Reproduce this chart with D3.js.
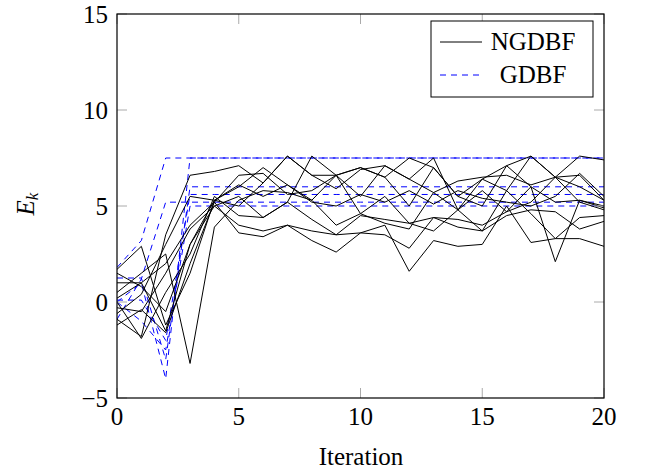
<!DOCTYPE html>
<html><head><meta charset="utf-8">
<script src="https://cdn.jsdelivr.net/npm/d3@7"></script>
<style>body{margin:0;background:#fff}svg{display:block}
text{font-family:"Liberation Serif","DejaVu Serif",serif;}</style>
</head><body>
<script>
const iterations = d3.range(0, 21);
const xTicks = [0, 5, 10, 15, 20];
const yTicks = [-5, 0, 5, 10, 15];

const ngdbf = [
  [-0.9, -1.8, 3.5, 6.6, 6.8, 7.1, 6.2, 7.6, 6.6, 6.6, 7.0, 6.5, 7.5, 7.0, 5.5, 6.4, 7.1, 7.6, 6.5, 7.6, 7.4],
  [1.7, 2.9, -1.2, 1.5, 5.3, 5.0, 6.2, 7.6, 6.6, 5.9, 6.9, 7.1, 6.4, 7.5, 4.8, 6.4, 5.8, 7.6, 6.5, 6.6, 5.3],
  [1.0, 1.0, -1.5, 3.0, 5.3, 6.0, 7.0, 6.1, 5.3, 6.6, 7.0, 6.5, 5.0, 7.0, 5.5, 5.0, 7.1, 6.0, 5.2, 5.3, 5.0],
  [-0.3, -0.5, 1.5, 3.8, 5.0, 5.5, 4.4, 5.2, 7.6, 6.6, 4.6, 4.1, 3.8, 5.7, 4.8, 5.8, 4.7, 5.2, 6.5, 5.2, 4.8],
  [0.5, 1.5, 2.5, -3.2, 3.9, 5.3, 5.8, 5.7, 5.3, 4.0, 4.6, 5.5, 4.1, 3.7, 4.8, 3.7, 5.8, 4.6, 3.3, 4.4, 4.5],
  [-1.2, -0.4, -1.6, 2.0, 5.2, 3.6, 3.4, 4.0, 3.7, 3.5, 3.6, 3.5, 2.8, 4.4, 4.3, 4.0, 4.7, 6.0, 2.1, 5.3, 4.9],
  [1.5, 0.8, -0.5, 3.0, 5.0, 4.0, 3.7, 4.0, 3.2, 2.6, 3.6, 4.0, 1.6, 3.2, 2.9, 3.0, 5.0, 3.1, 3.3, 3.3, 2.9],
  [0.0, -1.9, 0.5, 2.5, 5.5, 4.5, 4.4, 5.2, 4.3, 3.5, 4.5, 4.3, 4.1, 4.4, 3.9, 3.7, 4.5, 4.8, 4.7, 3.8, 4.2],
  [0.2, 1.0, 2.0, 4.0, 5.2, 6.6, 6.7, 5.6, 5.8, 6.6, 5.5, 7.1, 6.4, 5.7, 6.3, 6.5, 6.6, 6.1, 6.5, 6.0, 5.3],
  [-0.6, 0.4, 3.0, 5.5, 5.3, 6.1, 5.5, 6.1, 5.2, 5.0, 5.6, 5.2, 5.8, 5.1, 5.8, 5.4, 5.2, 5.0, 5.5, 6.7, 5.5]
];

const gdbf = [
  [1.8, 3.2, 7.5, 7.5, 7.5, 7.5, 7.5, 7.5, 7.5, 7.5, 7.5, 7.5, 7.5, 7.5, 7.5, 7.5, 7.5, 7.5, 7.5, 7.5, 7.5],
  [0.0, 1.0, -4.0, 7.5, 7.5, 7.5, 7.5, 7.5, 7.5, 7.5, 7.5, 7.5, 7.5, 7.5, 7.5, 7.5, 7.5, 7.5, 7.5, 7.5, 7.5],
  [1.25, 1.25, -3.0, 6.0, 6.0, 6.0, 6.0, 6.0, 6.0, 6.0, 6.0, 6.0, 6.0, 6.0, 6.0, 6.0, 6.0, 6.0, 6.0, 6.0, 6.0],
  [0.1, 0.1, -2.0, 5.6, 5.6, 5.6, 5.6, 5.6, 5.6, 5.6, 5.6, 5.6, 5.6, 5.6, 5.6, 5.6, 5.6, 5.6, 5.6, 5.6, 5.6],
  [-0.9, 1.2, 5.2, 5.2, 5.2, 5.2, 5.2, 5.2, 5.2, 5.2, 5.2, 5.2, 5.2, 5.2, 5.2, 5.2, 5.2, 5.2, 5.2, 5.2, 5.2],
  [0.0, -1.0, -2.5, 5.0, 5.0, 5.0, 5.0, 5.0, 5.0, 5.0, 5.0, 5.0, 5.0, 5.0, 5.0, 5.0, 5.0, 5.0, 5.0, 5.0, 5.0]
];

const W = 645, H = 472;
const m = {left: 117, right: 604, top: 14, bottom: 398};
const fs = 25;

const svg = d3.select("body").append("svg").attr("width", W).attr("height", H);
const x = d3.scaleLinear().domain([0, 20]).range([m.left, m.right]);
const y = d3.scaleLinear().domain([-5, 15]).range([m.bottom, m.top]);

svg.append("clipPath").attr("id", "c").append("rect")
  .attr("x", m.left).attr("y", m.top).attr("width", m.right - m.left).attr("height", m.bottom - m.top);

const line = d3.line().x((d, i) => x(iterations[i])).y(d => y(d));
const g = svg.append("g").attr("clip-path", "url(#c)");

g.selectAll(".b").data(gdbf).join("path")
  .attr("d", line).attr("fill", "none").attr("stroke", "#0000ff")
  .attr("stroke-width", 1).attr("stroke-dasharray", "6,5");
g.selectAll(".k").data(ngdbf).join("path")
  .attr("d", line).attr("fill", "none").attr("stroke", "#000")
  .attr("stroke-width", 1);

// ticks (inward, mirrored)
const tl = 10;
const tk = svg.append("g").attr("stroke", "#aaa").attr("stroke-width", 1);
xTicks.forEach(t => {
  tk.append("line").attr("x1", x(t)).attr("x2", x(t)).attr("y1", m.bottom).attr("y2", m.bottom - tl);
  tk.append("line").attr("x1", x(t)).attr("x2", x(t)).attr("y1", m.top).attr("y2", m.top + tl);
});
yTicks.forEach(t => {
  tk.append("line").attr("y1", y(t)).attr("y2", y(t)).attr("x1", m.left).attr("x2", m.left + tl);
  tk.append("line").attr("y1", y(t)).attr("y2", y(t)).attr("x1", m.right).attr("x2", m.right - tl);
});

svg.append("rect").attr("x", m.left).attr("y", m.top)
  .attr("width", m.right - m.left).attr("height", m.bottom - m.top)
  .attr("fill", "none").attr("stroke", "#000").attr("stroke-width", 1.2);

const fmt = v => v < 0 ? "\u2212" + Math.abs(v) : String(v);
svg.append("g").selectAll("text").data(xTicks).join("text")
  .attr("x", d => x(d)).attr("y", 425).attr("text-anchor", "middle")
  .attr("font-size", fs).text(fmt);
svg.append("g").selectAll("text").data(yTicks).join("text")
  .attr("x", 108).attr("y", d => y(d) + 8.5).attr("text-anchor", "end")
  .attr("font-size", fs).text(fmt);

svg.append("text").attr("x", 361).attr("y", 465)
  .attr("text-anchor", "middle").attr("font-size", fs).text("Iteration");

const yl = svg.append("text").attr("transform", "translate(34,204) rotate(-90)")
  .attr("text-anchor", "middle").attr("font-size", fs).attr("font-style", "italic");
yl.append("tspan").text("E");
yl.append("tspan").attr("font-size", 17).attr("dy", 4).text("k");

// legend
const lg = svg.append("g");
lg.append("rect").attr("x", 431).attr("y", 21).attr("width", 162).attr("height", 76)
  .attr("fill", "#fff").attr("stroke", "#000").attr("stroke-width", 1);
const items = [{name: "NGDBF", color: "#000", dash: null}, {name: "GDBF", color: "#0000ff", dash: "6,5"}];
items.forEach((it, i) => {
  const cy = 42 + i * 33;
  lg.append("line").attr("x1", 440).attr("x2", 482).attr("y1", cy).attr("y2", cy)
    .attr("stroke", it.color).attr("stroke-width", 1).attr("stroke-dasharray", it.dash);
  lg.append("text").attr("x", 533).attr("y", cy + 8).attr("text-anchor", "middle")
    .attr("font-size", fs).text(it.name);
});
</script>
</body></html>
